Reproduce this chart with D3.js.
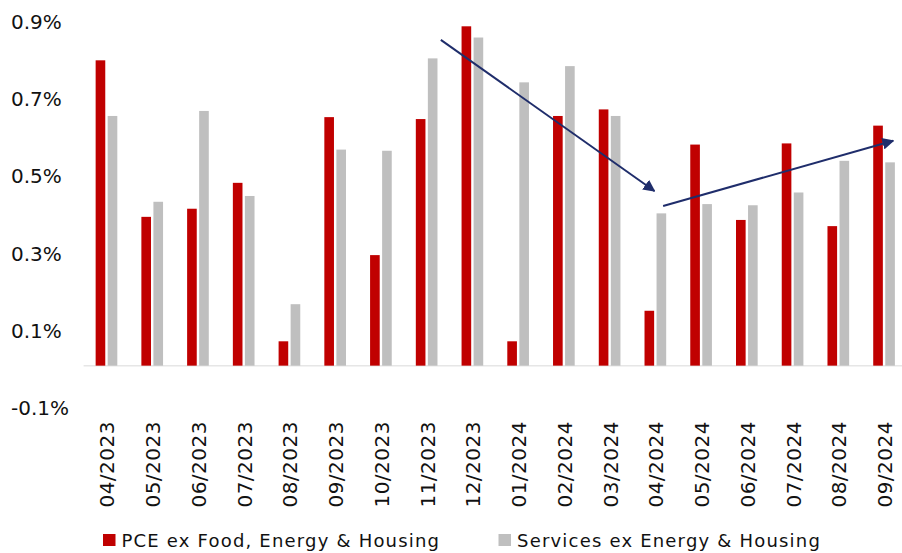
<!DOCTYPE html>
<html>
<head>
<meta charset="utf-8">
<script src="https://cdn.jsdelivr.net/npm/d3@7"></script>
<style>
  body { margin: 0; background: #fff; }
  text { font-family: "DejaVu Sans", sans-serif; fill: #111; }
</style>
</head>
<body>
<div id="chart"></div>
<script>
// data (monthly % change)
var months = ["04/2023", "05/2023", "06/2023", "07/2023", "08/2023", "09/2023",
              "10/2023", "11/2023", "12/2023", "01/2024", "02/2024", "03/2024",
              "04/2024", "05/2024", "06/2024", "07/2024", "08/2024", "09/2024"];
var pceCore = [0.79, 0.385, 0.406, 0.473, 0.063, 0.643, 0.286, 0.638, 0.878,
               0.063, 0.646, 0.663, 0.142, 0.572, 0.377, 0.575, 0.361, 0.621];
var servicesCore = [0.646, 0.424, 0.659, 0.439, 0.159, 0.559, 0.556, 0.795, 0.849,
                    0.733, 0.775, 0.646, 0.394, 0.418, 0.415, 0.448, 0.530, 0.526];
var yTicks = [-0.1, 0.1, 0.3, 0.5, 0.7, 0.9];
var seriesNames = ["PCE ex Food, Energy & Housing", "Services ex Energy & Housing"];
var seriesColors = ["#c00000", "#bfbfbf"];
// trend arrows, as [month index, value] -> [month index, value]
var arrows = [
  [[7.31, 0.843], [11.98, 0.452]],
  [[12.17, 0.413], [17.2, 0.582]]
];

var W = 902, H = 553;
var margin = {top: 18, left: 83.6};

var svg = d3.select("#chart")
  .append("svg")
    .attr("width", W)
    .attr("height", H);

var x0 = d3.scaleBand()
  .domain(months)
  .range([margin.left, margin.left + 45.74 * months.length]);

var x1 = d3.scaleBand()
  .domain([0, 1])
  .range([0, x0.bandwidth()])
  .paddingInner(0.2)
  .paddingOuter(1.0);

var y = d3.scaleLinear()
  .domain([-0.1, 0.9])
  .range([404.3, 17.8]);

// fractional month index -> pixel (band centers)
var xi = d3.scaleLinear()
  .domain([0, 1])
  .range([x0(months[0]) + x0.bandwidth() / 2, x0(months[1]) + x0.bandwidth() / 2]);

// y labels, no axis line
svg.append("g")
  .selectAll("text")
  .data(yTicks)
  .enter()
  .append("text")
    .attr("x", 11)
    .attr("y", function(d) { return y(d) + 4; })
    .attr("dominant-baseline", "central")
    .style("font-size", "20px")
    .text(function(d) { return d.toFixed(1) + "%"; });

// zero line
svg.append("line")
  .attr("x1", margin.left)
  .attr("x2", W)
  .attr("y1", y(0))
  .attr("y2", y(0))
  .attr("stroke", "#e6e6e6")
  .attr("stroke-width", 1.5);

// bars
var series = [pceCore, servicesCore];
series.forEach(function(vals, s) {
  svg.append("g")
    .selectAll("rect")
    .data(vals)
    .enter()
    .append("rect")
      .attr("x", function(d, i) { return x0(months[i]) + x1(s); })
      .attr("y", function(d) { return y(Math.max(0, d)); })
      .attr("width", x1.bandwidth())
      .attr("height", function(d) { return Math.abs(y(d) - y(0)); })
      .attr("fill", seriesColors[s]);
});

// x labels, rotated
svg.append("g")
  .selectAll("text")
  .data(months)
  .enter()
  .append("text")
    .attr("transform", function(d) {
      return "translate(" + (x0(d) + x0.bandwidth() / 2 + 1) + "," + 421 + ")rotate(-90)";
    })
    .attr("text-anchor", "end")
    .attr("dominant-baseline", "central")
    .style("font-size", "20px")
    .style("letter-spacing", "0.5px")
    .text(function(d) { return d; });

// arrows
svg.append("defs")
  .append("marker")
    .attr("id", "head")
    .attr("viewBox", "0 0 10 10")
    .attr("refX", 9)
    .attr("refY", 5)
    .attr("markerWidth", 6)
    .attr("markerHeight", 6)
    .attr("orient", "auto")
  .append("path")
    .attr("d", "M0,0 L10,5 L0,10 z")
    .attr("fill", "#1f2d6b");

svg.append("g")
  .selectAll("line")
  .data(arrows)
  .enter()
  .append("line")
    .attr("x1", function(d) { return xi(d[0][0]); })
    .attr("y1", function(d) { return y(d[0][1]); })
    .attr("x2", function(d) { return xi(d[1][0]); })
    .attr("y2", function(d) { return y(d[1][1]); })
    .attr("stroke", "#1f2d6b")
    .attr("stroke-width", 2)
    .attr("marker-end", "url(#head)");

// legend
var legendX = [103, 498.5];
var legend = svg.append("g")
  .selectAll("g")
  .data(seriesNames)
  .enter()
  .append("g")
    .attr("transform", function(d, i) { return "translate(" + legendX[i] + ",534)"; });
legend.append("rect")
  .attr("width", 12.5)
  .attr("height", 12)
  .attr("fill", function(d, i) { return seriesColors[i]; });
legend.append("text")
  .attr("x", 18.5)
  .attr("y", 6)
  .attr("dominant-baseline", "central")
  .style("font-size", "18px")
  .style("letter-spacing", "1.2px")
  .text(function(d) { return d; });
</script>
</body>
</html>
